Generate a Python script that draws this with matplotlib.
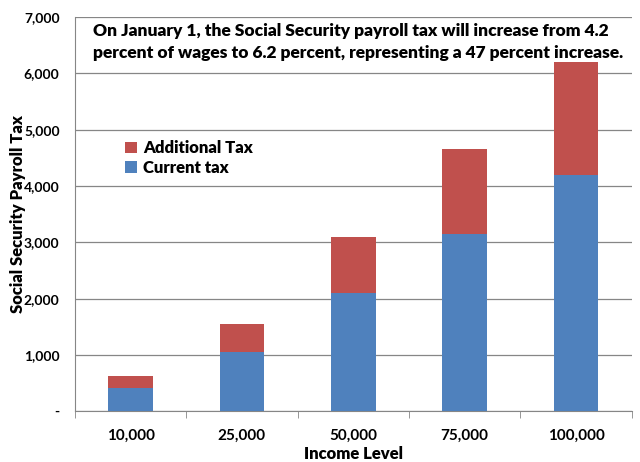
import matplotlib.pyplot as plt
from matplotlib.ticker import FuncFormatter

income = ['10,000', '25,000', '50,000', '75,000', '100,000']
current_tax = [420, 1050, 2100, 3150, 4200]
additional_tax = [200, 500, 1000, 1500, 2000]

blue = '#4F81BD'
red = '#C0504D'

plt.rcParams['font.family'] = ['Lato', 'DejaVu Sans']
plt.rcParams['font.weight'] = 'bold'

fig = plt.figure(figsize=(6.4, 4.62), dpi=100)
ax = fig.add_axes([0.117, 0.110, 0.870, 0.853])

x = range(len(income))
ax.bar(x, current_tax, width=0.4, color=blue, label='Current tax', zorder=3)
ax.bar(x, additional_tax, width=0.4, bottom=current_tax, color=red,
       label='Additional Tax', zorder=3)

ax.set_xlim(-0.5, len(income) - 0.5)
ax.set_ylim(0, 7000)
ax.set_yticks(range(0, 7001, 1000))
ax.yaxis.set_major_formatter(FuncFormatter(lambda v, p: '-' if v == 0 else f'{int(v):,}'))
ax.set_xticks(list(x))
ax.set_xticklabels(income)
ax.set_xticks([i + 0.5 for i in range(-1, len(income))], minor=True)
ax.tick_params(axis='x', which='major', length=0, pad=13, labelsize=11)
ax.tick_params(axis='x', which='minor', length=5, color='#868686', direction='out')
ax.tick_params(axis='y', length=0, pad=11, labelsize=10)

ax.grid(axis='y', color='#868686', linewidth=0.9, zorder=0)
for s in ['top', 'right']:
    ax.spines[s].set_visible(False)
ax.spines['left'].set_color('#868686')
ax.spines['bottom'].set_color('#868686')

ax.set_xlabel('Income Level', fontsize=12, fontweight='heavy', labelpad=2)
ax.set_ylabel('Social Security Payroll Tax', fontsize=12, fontweight='heavy', va='center')
ax.yaxis.set_label_coords(-0.103, 0.5)

ax.text(0.032, 0.985,
        'On January 1, the Social Security payroll tax will increase from 4.2\n'
        'percent of wages to 6.2 percent, representing a 47 percent increase.',
        transform=ax.transAxes, ha='left', va='top', fontsize=12.5,
        fontweight='heavy', linespacing=1.45,
        bbox=dict(facecolor='white', edgecolor='none', pad=1), zorder=5)

h, l = ax.get_legend_handles_labels()
ax.legend(h[::-1], l[::-1], loc='upper left', bbox_to_anchor=(0.063, 0.725),
          frameon=False, handlelength=0.7, handleheight=0.7,
          handletextpad=0.4, labelspacing=0.2,
          prop={'weight': 'heavy', 'size': 12})

fig.savefig('out.png', dpi=100)
